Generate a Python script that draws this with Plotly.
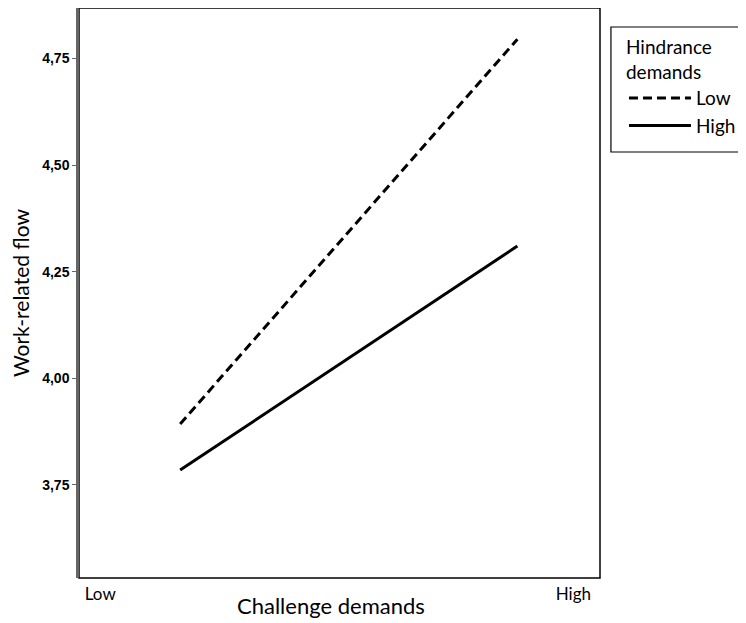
import plotly.graph_objects as go

# Data
x_tick_vals = [-1.474, 1.332]
x_tick_labels = ["Low", "High"]
x_points = [-1.0, 1.0]
low_hindrance = [3.893, 4.795]
high_hindrance = [3.785, 4.31]
y_ticks = [3.75, 4.00, 4.25, 4.50, 4.75]
y_tick_labels = ["3,75", "4,00", "4,25", "4,50", "4,75"]

fig = go.Figure()
fig.add_trace(go.Scatter(x=x_points, y=low_hindrance, mode="lines", name="Low",
                         line=dict(color="black", width=3, dash="9px,5px")))
fig.add_trace(go.Scatter(x=x_points, y=high_hindrance, mode="lines", name="High",
                         line=dict(color="black", width=3)))

# plot frame
fig.add_shape(type="rect", xref="paper", yref="paper", x0=0, x1=1, y0=0, y1=1,
              line=dict(color="black", width=1.5), layer="below")
# legend frame
fig.add_shape(type="rect", xref="paper", yref="paper", x0=1.021, x1=1.278, y0=0.7474, y1=0.9667,
              line=dict(color="black", width=1.2), layer="below")

fig.add_annotation(text="Challenge demands", xref="paper", yref="paper",
                   x=0.484, y=-0.0474, xanchor="center", yanchor="middle",
                   showarrow=False, font=dict(family="Lato", size=22, color="black"))

fig.update_layout(
    width=738, height=615,
    margin=dict(l=71, r=146, t=0, b=45),
    plot_bgcolor="white", paper_bgcolor="white",
    showlegend=True,
    legend=dict(
        title=dict(text="Hindrance<br>demands", font=dict(family="Lato", size=19, color="black")),
        font=dict(family="Lato", size=19, color="black"),
        x=1.046, xanchor="left", y=0.962, yanchor="top",
        borderwidth=0, bgcolor="rgba(0,0,0,0)",
        itemwidth=62, tracegroupgap=0,
    ),
    xaxis=dict(
        range=[-1.6, 1.49], tickvals=x_tick_vals, ticktext=x_tick_labels,
        showgrid=False, zeroline=False, showline=False,
        ticks="", ticklabelstandoff=4,
        tickfont=dict(family="Lato", size=17, color="black"),
    ),
    yaxis=dict(
        range=[3.532, 4.868], tickvals=y_ticks, ticktext=y_tick_labels,
        showgrid=False, zeroline=False, showline=True, linecolor="#666", linewidth=2.5,
        mirror=False, ticks="outside", ticklen=4, tickcolor="#666",
        tickfont=dict(family="Liberation Sans", size=14, color="black", weight="bold"),
        title=dict(text="Work-related flow", font=dict(family="Lato", size=21, color="black"), standoff=15),
    ),
)

fig.write_html("out.html")
